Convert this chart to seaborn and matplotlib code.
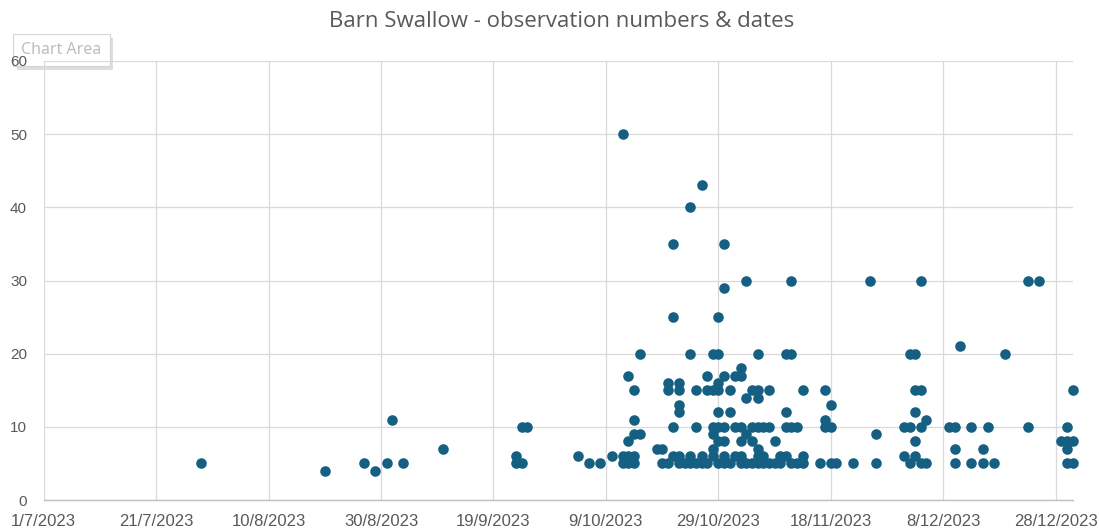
import datetime as dt

import numpy as np
import pandas as pd
import matplotlib
matplotlib.use('Agg')
import matplotlib.pyplot as plt
import matplotlib.dates as mdates
import matplotlib.patheffects as pe
import seaborn as sns

# observation dates and the counts logged on each date
obs_days = [
    '2023-07-29', '2023-08-20', '2023-08-27', '2023-08-29', '2023-08-31',
    '2023-09-01', '2023-09-03', '2023-09-10', '2023-09-23', '2023-09-24',
    '2023-09-25', '2023-10-04', '2023-10-06', '2023-10-08', '2023-10-10',
    '2023-10-12', '2023-10-13', '2023-10-14', '2023-10-15', '2023-10-18',
    '2023-10-19', '2023-10-20', '2023-10-21', '2023-10-22', '2023-10-23',
    '2023-10-24', '2023-10-25', '2023-10-26', '2023-10-27', '2023-10-28',
    '2023-10-29', '2023-10-30', '2023-10-31', '2023-11-01', '2023-11-02',
    '2023-11-03', '2023-11-04', '2023-11-05', '2023-11-06', '2023-11-07',
    '2023-11-08', '2023-11-09', '2023-11-10', '2023-11-11', '2023-11-12',
    '2023-11-13', '2023-11-16', '2023-11-17', '2023-11-18', '2023-11-19',
    '2023-11-22', '2023-11-25', '2023-11-26', '2023-12-01', '2023-12-02',
    '2023-12-03', '2023-12-04', '2023-12-05', '2023-12-09', '2023-12-10',
    '2023-12-11', '2023-12-13', '2023-12-15', '2023-12-16', '2023-12-17',
    '2023-12-19', '2023-12-23', '2023-12-25', '2023-12-29', '2023-12-30',
    '2023-12-31',
]
obs_counts = [
    [5], [4], [5], [4], [5],
    [11], [5], [7], [6, 5], [5, 10],
    [10], [6], [5], [5], [6],
    [50, 6, 5], [17, 8, 6, 5], [15, 11, 9, 6, 5], [20, 9], [7],
    [7, 5], [16, 15, 5], [35, 25, 10, 6], [16, 15, 13, 12, 6, 5], [5],
    [40, 20, 6, 5], [15, 10, 5], [43, 6, 5], [17, 15, 5], [20, 15, 10, 9, 7, 6],
    [25, 20, 16, 15, 12, 10, 8, 5], [35, 29, 17, 10, 8, 6, 5], [15, 12, 5], [17, 10, 6], [18, 17, 10, 8, 6, 5],
    [30, 14, 9, 5], [15, 10, 8, 5], [20, 15, 14, 10, 7, 6, 5], [10, 6, 5], [15, 10, 5],
    [8, 5], [6, 5], [20, 12, 10, 6], [30, 20, 10, 5], [10, 5],
    [15, 6, 5], [5], [15, 11, 10], [13, 10, 5], [5],
    [5], [30], [9, 5], [10, 6], [20, 10, 5],
    [20, 15, 12, 8, 6], [30, 15, 10, 5], [11, 5], [10], [10, 7, 5],
    [21], [10, 5], [7, 5], [10], [5],
    [20], [30, 10], [30], [8], [10, 8, 7, 5],
    [15, 8, 5],
]

y_ticks = [0, 10, 20, 30, 40, 50, 60]

rows = []
for d, cs in zip(obs_days, obs_counts):
    for c in cs:
        rows.append({'date': pd.Timestamp(d), 'count': c})
df = pd.DataFrame(rows)

sns.set_style('white')
plt.rcParams['font.family'] = ['Liberation Sans', 'DejaVu Sans']

fig = plt.figure(figsize=(10.99, 5.28), dpi=100)
ax = fig.add_axes([0.0397, 0.053, 0.9363, 0.8315])
# axes above the "Chart Area" tip so the 60 label sits on top of it
ax.set_zorder(5)
ax.patch.set_visible(False)

sns.scatterplot(data=df, x='date', y='count', color='#156082', s=58,
                linewidth=0, ax=ax, clip_on=False, zorder=3)

start = dt.date(2023, 7, 1)
x_ticks = [start + dt.timedelta(days=20 * k) for k in range(10)]
ax.set_xticks([mdates.date2num(t) for t in x_ticks])
ax.set_xticklabels([f'{t.day}/{t.month}/{t.year}' for t in x_ticks])
ax.set_xlim(mdates.date2num(start), mdates.date2num(dt.date(2023, 12, 31)))
ax.set_ylim(0, 60)
ax.set_yticks(y_ticks)

ax.grid(True, color='#d9d9d9', linewidth=0.9)
ax.set_axisbelow(True)
for s in ['top', 'right', 'left']:
    ax.spines[s].set_visible(False)
ax.spines['bottom'].set_color('#bfbfbf')
ax.spines['bottom'].set_linewidth(1.0)
ax.tick_params(axis='x', length=0, pad=10, labelsize=12, colors='#595959')
ax.tick_params(axis='y', length=0, pad=12, labelsize=11, colors='#595959')
ax.set_xlabel('')
ax.set_ylabel('')

fig.text(0.511, 0.960, 'Barn Swallow - observation numbers & dates',
         ha='center', va='center', fontsize=16, color='#595959',
         family=['Open Sans', 'DejaVu Sans'])

tip = fig.text(0.0195, 0.905, 'Chart Area', ha='left', va='center',
               fontsize=11.5, color='#bdbdbd', family=['Noto Sans', 'DejaVu Sans'],
               zorder=1,
               bbox=dict(boxstyle='square,pad=0.5', facecolor='white',
                         edgecolor='#d4d4d4', linewidth=0.8))
tip.get_bbox_patch().set_path_effects([
    pe.SimplePatchShadow(offset=(2.5, -2.5), shadow_rgbFace='#c8c8c8', alpha=0.6),
    pe.Normal()])

fig.savefig('out.png', dpi=100)
